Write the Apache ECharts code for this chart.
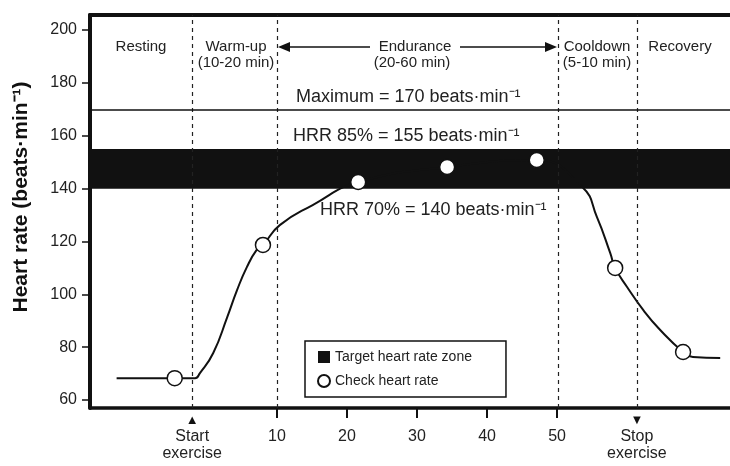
<!DOCTYPE html>
<html><head><meta charset="utf-8">
<script src="https://cdn.jsdelivr.net/npm/echarts@6/dist/echarts.min.js"></script>
<style>html,body{margin:0;padding:0;background:#fff}#c{width:730px;height:466px}</style>
</head><body><div id="c"></div><script>
// Heart-rate curve (minutes, beats/min)
const curveMinutes = [-12.9, -4.6, -1.7, -1.0, 0.9, 2.9, 4.3, 5.7, 7.1, 8.0, 10.4, 15.1, 21.6, 34.3, 47.1, 53.6, 55.7, 57.6, 58.3, 60.0, 62.3, 64.7, 68.0, 69.4, 73.3];
const curveRate    = [68.3, 68.3, 68.3, 70.2, 77.8, 91.4, 101.6, 110.3, 116.8, 118.7, 126.2, 133.8, 142.5, 148.2, 150.8, 140.6, 129.2, 115.6, 110.0, 102.8, 94.1, 86.6, 78.2, 76.3, 75.9];
// Check points
const checkMinutes = [-4.6, 8.0, 21.6, 34.3, 47.1, 58.3, 68.0];
const checkRate    = [68.3, 118.7, 142.5, 148.2, 150.8, 110.0, 78.2];
// Zone and reference levels
const zoneLow = 140, zoneHigh = 155, maxRate = 170;
const phaseBoundaries = [-2.1, 10.1, 50.2, 61.5];
const startMinute = -2.1, stopMinute = 61.4;
const yTicks = [60, 80, 100, 120, 140, 160, 180, 200];
const xTicks = [10, 20, 30, 40, 50];
const xLabels = [startMinute, 10, 20, 30, 40, 50, stopMinute];

const X_MIN = -16.7, X_MAX = 74.7, Y_MIN = 57, Y_MAX = 205.7;
const INK = '#111', TXT = '#222';
const FONT = '"Liberation Sans", Arial, sans-serif';

const chart = echarts.init(document.getElementById('c'));
const txt = (x, y, text, size, align) => ({
  type: 'text', x: x, y: y,
  style: { text: text, fill: TXT, font: size + 'px ' + FONT, align: align || 'center', verticalAlign: 'middle' }
});
chart.setOption({
  animation: false,
  textStyle: { fontFamily: FONT },
  grid: { left: 90, right: 0, top: 15, bottom: 58 },
  xAxis: [{
    type: 'value', min: X_MIN, max: X_MAX, position: 'bottom',
    splitLine: { show: false },
    axisLine: { onZero: false, lineStyle: { color: INK, width: 3.5 } },
    axisTick: { show: true, customValues: xTicks, length: 10, lineStyle: { color: INK, width: 2 } },
    axisLabel: {
      customValues: xLabels, margin: 5, color: TXT,
      formatter: function (v) {
        if (Math.abs(v - startMinute) < 1e-6) return '{a|▲}\n{t|Start}\n{t|exercise}';
        if (Math.abs(v - stopMinute) < 1e-6) return '{a|▼}\n{t|Stop}\n{t|exercise}';
        return '{a| }\n{t|' + v + '}';
      },
      rich: {
        a: { fontSize: 13, lineHeight: 15, color: INK, fontFamily: FONT },
        t: { fontSize: 16, lineHeight: 17, color: TXT, fontFamily: FONT }
      }
    }
  }, {
    type: 'value', min: X_MIN, max: X_MAX, position: 'top',
    splitLine: { show: false }, axisTick: { show: false }, axisLabel: { show: false },
    axisLine: { onZero: false, lineStyle: { color: INK, width: 4 } }
  }],
  yAxis: {
    type: 'value', min: Y_MIN, max: Y_MAX,
    splitLine: { show: false },
    axisLine: { show: true, onZero: false, lineStyle: { color: INK, width: 4 } },
    axisTick: { show: true, customValues: yTicks, length: 8, lineStyle: { color: INK, width: 1.5 } },
    axisLabel: { customValues: yTicks, fontSize: 16, color: TXT, margin: 13 }
  },
  legend: {
    orient: 'vertical', left: 305, top: 341,
    borderColor: INK, borderWidth: 1.5, borderRadius: 0,
    padding: [9, 34, 9, 12], itemGap: 10, itemWidth: 12, itemHeight: 12,
    textStyle: { fontSize: 14, color: TXT },
    data: [{ name: 'Target heart rate zone', icon: 'rect', itemStyle: { color: INK } }, { name: 'Check heart rate', icon: 'circle' }]
  },
  series: [{
    type: 'line', name: 'curve', z: 2,
    data: curveMinutes.map((m, i) => [m, curveRate[i]]),
    smooth: 0.5, symbol: 'none',
    lineStyle: { color: INK, width: 2 },
    markLine: {
      silent: true, symbol: 'none', label: { show: false },
      data: phaseBoundaries.map(b => ({ xAxis: b, lineStyle: { color: TXT, width: 1.2, type: [4, 4] } }))
        .concat([{ yAxis: maxRate, lineStyle: { color: INK, width: 1.5, type: 'solid' } }])
    }
  }, {
    type: 'line', name: 'Target heart rate zone', z: 3, data: [],
    itemStyle: { color: INK },
    markArea: {
      silent: true, itemStyle: { color: INK },
      data: [[{ yAxis: zoneLow }, { yAxis: zoneHigh }]]
    }
  }, {
    type: 'scatter', name: 'Check heart rate', z: 4,
    data: checkMinutes.map((m, i) => [m, checkRate[i]]),
    symbolSize: 15,
    itemStyle: { color: '#fff', borderColor: INK, borderWidth: 1.5, opacity: 1 }
  }],
  graphic: [
    { type: 'text', x: 21, y: 197, rotation: Math.PI / 2,
      style: { text: 'Heart rate (beats·min⁻¹)', fill: INK, font: 'bold 21px ' + FONT, align: 'center', verticalAlign: 'middle' } },
    txt(141, 47, 'Resting', 15),
    txt(236, 47, 'Warm-up', 15),
    txt(236, 63, '(10-20 min)', 15),
    txt(415, 47, 'Endurance', 15),
    txt(412, 63, '(20-60 min)', 15),
    txt(597, 47, 'Cooldown', 15),
    txt(597, 63, '(5-10 min)', 15),
    txt(680, 47, 'Recovery', 15),
    txt(296, 97, 'Maximum = 170 beats·min⁻¹', 18, 'left'),
    txt(293, 136, 'HRR 85% = 155 beats·min⁻¹', 18, 'left'),
    txt(320, 210, 'HRR 70% = 140 beats·min⁻¹', 18, 'left'),
    { type: 'line', shape: { x1: 286, y1: 47, x2: 370, y2: 47 }, style: { stroke: INK, lineWidth: 1.5 } },
    { type: 'polygon', shape: { points: [[278, 47], [290, 42], [290, 52]] }, style: { fill: INK } },
    { type: 'line', shape: { x1: 460, y1: 47, x2: 548, y2: 47 }, style: { stroke: INK, lineWidth: 1.5 } },
    { type: 'polygon', shape: { points: [[557, 47], [545, 42], [545, 52]] }, style: { fill: INK } }
  ]
});
</script></body></html>
